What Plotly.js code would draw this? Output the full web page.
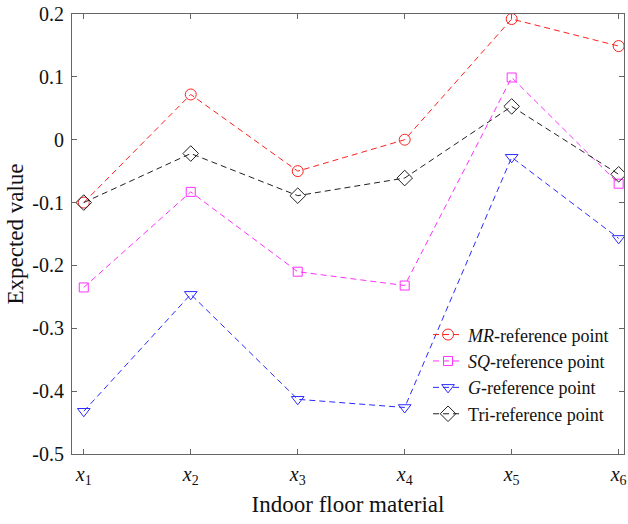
<!DOCTYPE html>
<html><head><meta charset="utf-8">
<script src="https://cdn.plot.ly/plotly-3.0.1.min.js"></script>
<style>body{margin:0;background:#fff}#c{width:628px;height:524px}</style>
</head><body><div id="c"></div>
<script>
const categories = [1, 2, 3, 4, 5, 6];
const tickLabels = ['<i>x</i><sub>1</sub>','<i>x</i><sub>2</sub>','<i>x</i><sub>3</sub>','<i>x</i><sub>4</sub>','<i>x</i><sub>5</sub>','<i>x</i><sub>6</sub>'];
const yTickVals = [-0.5, -0.4, -0.3, -0.2, -0.1, 0, 0.1, 0.2];
const yTickText = ['-0.5','-0.4','-0.3','-0.2','-0.1','0','0.1','0.2'];
const mrValues  = [-0.100, 0.072, -0.050, 0.000, 0.192, 0.149];
const sqValues  = [-0.235, -0.083, -0.210, -0.232, 0.099, -0.070];
const gValues   = [-0.432, -0.246, -0.413, -0.426, -0.028, -0.157];
const triValues = [-0.100, -0.022, -0.089, -0.061, 0.053, -0.055];
const seriesNames = ['<i>MR</i>-reference point','<i>SQ</i>-reference point','<i>G</i>-reference point','Tri-reference point'];

const FONT = 'Liberation Serif, Times New Roman, serif';
function tr(y, name, color, symbol, size){
  return {x: categories, y: y, name: name, type:'scatter', mode:'lines+markers',
    line:{color:color, width:1, dash:'6px,4px'},
    marker:{symbol:symbol, size:size, color:color, line:{color:color, width:1}}};
}
const data = [
  tr(mrValues, seriesNames[0], '#ff2020', 'circle-open', 11),
  tr(sqValues, seriesNames[1], '#ff30ff', 'square-open', 9),
  tr(gValues, seriesNames[2], '#2a2aff', 'triangle-down-open', 11),
  tr(triValues, seriesNames[3], '#202020', 'diamond-open', 12)
];
const axisCommon = {showline:true, mirror:'ticks', linecolor:'#666', linewidth:1, ticks:'inside', ticklen:5, tickcolor:'#666', showgrid:false, zeroline:false, automargin:false,
  tickfont:{family:FONT, size:20, color:'#111'}};
const layout = {
  width:628, height:524, margin:{l:72, r:4, t:14, b:70},
  paper_bgcolor:'#fff', plot_bgcolor:'#fff',
  font:{family:FONT, color:'#111'},
  xaxis: Object.assign({}, axisCommon, {range:[0.89, 6.05], tickvals:categories, ticktext:tickLabels, ticklabelstandoff:2,
    title:{text:'Indoor floor material', font:{family:FONT, size:23, color:'#111'}, standoff:8}}),
  yaxis: Object.assign({}, axisCommon, {range:[-0.5, 0.2], tickvals:yTickVals, ticktext:yTickText, ticklabelstandoff:3,
    title:{text:'Expected value', font:{family:FONT, size:23, color:'#111'}, standoff:2}}),
  showlegend:true,
  legend:{x:0.645, y:0.181, xanchor:'left', yanchor:'middle', bgcolor:'rgba(255,255,255,0)', borderwidth:0,
    font:{family:FONT, size:18, color:'#111'}, tracegroupgap:0, itemwidth:30}
};
Plotly.newPlot('c', data, layout, {displayModeBar:false, staticPlot:true});
</script></body></html>
